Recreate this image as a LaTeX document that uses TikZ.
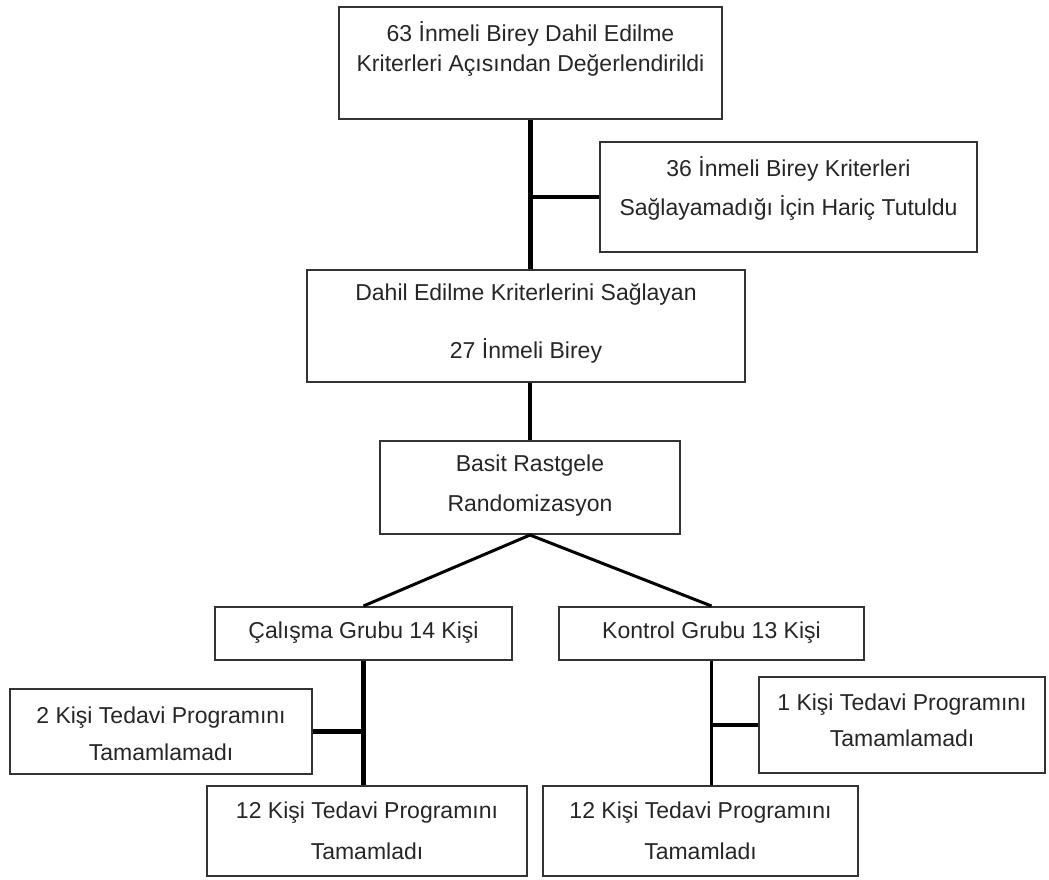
\documentclass[tikz,border=0pt]{standalone}
\usepackage{fontspec}
\setmainfont{Liberation Sans}
\usetikzlibrary{fit}
\tikzset{
	box/.style={draw=black!80, line width=1pt, inner sep=0pt},
	txt/.style={anchor=base, inner sep=0pt, text=black!85},
	link/.style={line width=2.4pt},
	thinlink/.style={line width=1.5pt}
}
\begin{document}
\begin{tikzpicture}[x=0.5pt, y=-0.5pt, every node/.style={font=\fontsize{11.5}{14}\selectfont}]
	\useasboundingbox (0,0) rectangle (1049,879);
	\node[box, fit={(339,7) (722,119)}] (b1) {};
	\node[box, fit={(600,142) (977,252)}] (b2) {};
	\node[box, fit={(307,270) (745,382)}] (b3) {};
	\node[box, fit={(380,441) (680,534)}] (b4) {};
	\node[box, fit={(215,607) (512,660)}] (b5) {};
	\node[box, fit={(559,607) (864,660)}] (b6) {};
	\node[box, fit={(10,689) (312,774)}] (b7) {};
	\node[box, fit={(207,786) (527,876)}] (b8) {};
	\node[box, fit={(759,677) (1045,773)}] (b9) {};
	\node[box, fit={(543,786) (858,876)}] (b10) {};
	\node[txt] (t1a) at (530.5,41) {63 İnmeli Birey Dahil Edilme};
	\node[txt] (t1b) at (530.5,71) {Kriterleri Açısından Değerlendirildi};
	\node[txt] (t2a) at (788.5,176) {36 İnmeli Birey Kriterleri};
	\node[txt] (t2b) at (788.5,215) {Sağlayamadığı İçin Hariç Tutuldu};
	\node[txt] (t3a) at (526,300) {Dahil Edilme Kriterlerini Sağlayan};
	\node[txt] (t3b) at (526,358) {27 İnmeli Birey};
	\node[txt] (t4a) at (530,471) {Basit Rastgele};
	\node[txt] (t4b) at (530,511) {Randomizasyon};
	\node[txt] (t5) at (363.5,638) {Çalışma Grubu 14 Kişi};
	\node[txt] (t6) at (711.5,638) {Kontrol Grubu 13 Kişi};
	\node[txt] (t7a) at (161,723) {2 Kişi Tedavi Programını};
	\node[txt] (t7b) at (161,760) {Tamamlamadı};
	\node[txt] (t8a) at (367,818) {12 Kişi Tedavi Programını};
	\node[txt] (t8b) at (367,859) {Tamamladı};
	\node[txt] (t9a) at (902,710) {1 Kişi Tedavi Programını};
	\node[txt] (t9b) at (902,746) {Tamamlamadı};
	\node[txt] (t10a) at (700.5,818) {12 Kişi Tedavi Programını};
	\node[txt] (t10b) at (700.5,859) {Tamamladı};
	\draw[link] (b1.south) -- (b1.south |- b3.north);
	\draw[link] (b2.west) -- (b2.west -| b1.south);
	\draw[link] (b4.north) -- (b4.north |- b3.south);
	\draw[thinlink] (b4.south) -- (b5.north);
	\draw[thinlink] (b4.south) -- (b6.north);
	\draw[link] (b5.south) -- (b5.south |- b8.north);
	\draw[link] (b7.east) -- (b7.east -| b5.south);
	\draw[thinlink] (b6.south) -- (b6.south |- b10.north);
	\draw[link] (b9.west) -- (b9.west -| b6.south);
\end{tikzpicture}
\end{document}
